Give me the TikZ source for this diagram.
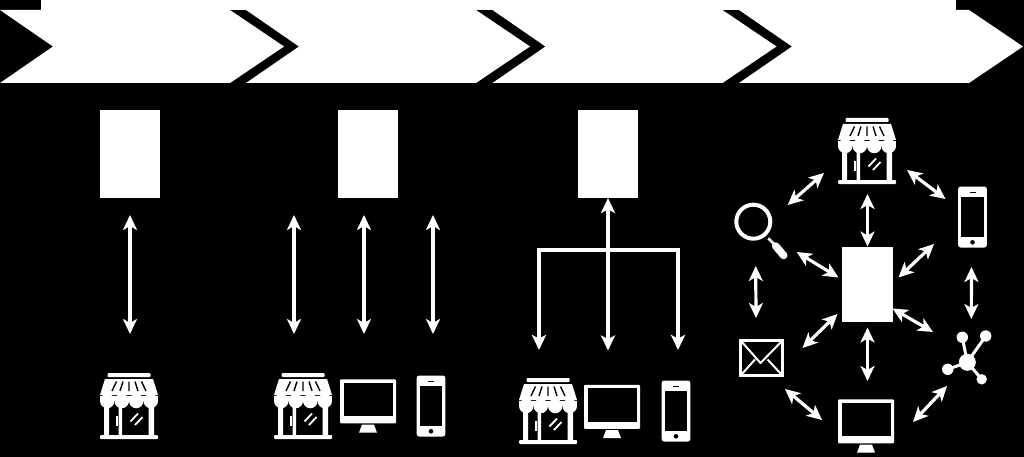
\documentclass[tikz,border=0pt]{standalone}
\usetikzlibrary{positioning,calc,arrows.meta}
\tikzset{
  iconbox/.style={inner sep=0pt,outer sep=0pt},
  stagebox/.style={fill=white,inner sep=0pt,outer sep=0pt},
  biarrow/.style={draw=white,line width=3.2pt,{Stealth[length=15pt,width=14pt,inset=4pt]}-{Stealth[length=15pt,width=14pt,inset=4pt]}},
  busline/.style={draw=white,line width=4pt,-{Stealth[length=15pt,width=14pt,inset=3.5pt]}},
  store/.pic={
    \fill[white,rounded corners=1pt] (-21.5,-33) rectangle (21.5,-29);
    \fill[white] (-24,-27) -- (24,-27) -- (29,-11) -- (-29,-11) -- cycle;
    \draw[black,line width=1.4pt]
    (-17,-15) -- (-12.5,-24.5) (-9,-15) -- (-6,-24.5) (0,-15) -- (0,-24.5)
    (9,-15) -- (6,-24.5) (17,-15) -- (12.5,-24.5);
    \fill[white] (-29,-9.7) rectangle (29,-5);
    \foreach \c in {-21.75,-7.25,7.25,21.75}
      \fill[white] (\c,-5) circle (7.25);
    \fill[white] (-25,-2) rectangle (-20,30) (-10.5,-2) rectangle (-7,30) (19.5,-2) rectangle (25,30);
    \fill[white,rounded corners=1pt] (-29,29) rectangle (29,33);
    \draw[white,line width=2pt] (-12.5,10) -- (-12.5,20);
    \draw[white,line width=1.8pt] (1.5,15.5) -- (9,7.5) (6,19) -- (13.5,11);
  },
  monitor/.pic={
    \fill[white,rounded corners=1pt] (-28,-26.7) rectangle (28,17.3);
    \fill[black] (-24.5,-23.3) rectangle (24.5,10);
    \fill[white] (-6,18.5) -- (6,18.5) -- (9,26.7) -- (-9,26.7) -- cycle;
  },
  phone/.pic={
    \fill[white,rounded corners=2.5pt] (-14.3,-30.5) rectangle (14.3,30.5);
    \fill[black] (-11.3,-20) rectangle (11.3,20);
    \fill[black] (-3,-25) rectangle (3,-24);
    \fill[black] (0,25.3) circle (2.3);
  },
  lens/.pic={
    \draw[white,line width=4pt] (-8.4,-10.3) circle (17);
    \draw[white,line width=2.6pt] (6.6,6.3) -- (13.3,13);
    \draw[white,line width=7.5pt,line cap=round] (14,14) -- (22,23.5);
  },
  envelope/.pic={
    \draw[white,line width=3pt] (-21,-17.8) rectangle (21,17.8);
    \draw[white,line width=2pt,line join=round]
    (-20.5,-17) -- (-1,5) -- (20.5,-17) (-20.5,17) -- (-6.5,1.5) (20.5,17) -- (6,1.5);
  },
  hub/.pic={
    \draw[white,line width=3pt]
    (0.3,4.3) -- (-4.7,-20.7) (0.3,4.3) -- (18.7,-22) (0.3,4.3) -- (-19.3,11.3) (0.3,4.3) -- (14.7,21.3);
    \fill[white] (0.3,4.3) circle (8.5) (-4.7,-20.7) circle (5.7) (18.7,-22) circle (5.7)
    (-19.3,11.3) circle (5.7) (14.7,21.3) circle (5.2);
  },
}
\begin{document}
\begin{tikzpicture}[x=1pt,y=-1pt]
  \useasboundingbox[fill=black] (0,0) rectangle (1024,457);
  % banner
  \fill[white] (41,0) rectangle (956,10.5);
  \foreach \x in {0,246,492.5,739}
    \fill[white] (\x,10) -- ++(230,0) -- ++(54,36.5) -- ++(-54,36.5) -- ++(-230,0) -- ++(53,-36.5) -- cycle;
  % stages
  \node[stagebox,minimum width=60pt,minimum height=88pt] (box1) at (130,154) {};
  \node[stagebox,minimum width=60pt,minimum height=88pt] (box2) at (367.5,154) {};
  \node[stagebox,minimum width=60pt,minimum height=88pt] (box3) at (608,154) {};
  \node[stagebox,minimum width=51pt,minimum height=75pt] (box4) at (867.5,284.5) {};
  % icons
  \foreach \name/\kind/\w/\h/\x/\y in {
    store1/store/58/66/129/406,
    store2/store/58/66/303/406,
    monitor2/monitor/56/54/368/406,
    phone2/phone/29/61/431/406,
    store3/store/58/66/548/411,
    monitor3/monitor/56/54/612/411.5,
    phone3/phone/29/61/676/411,
    store4/store/58/66/867/151,
    phone4/phone/29/61/972.5/217,
    lens4/lens/53/61/761.7/232,
    mail4/envelope/45/39/761.5/358,
    hub4/hub/50/56/967/358,
    monitor4/monitor/56/54/866/426%
  }{
    \node[iconbox,minimum width=\w pt,minimum height=\h pt] (\name) at (\x,\y) {};
    \pic at (\name) {\kind};
  }
  % arrows
  \foreach \from/\fx/\fy/\to/\tx/\ty in {
    box1/0/61/store1/1/-72,
    box2/-73.5/61/store2/-9/-72,
    box2/-3.5/61/monitor2/-4/-72,
    box2/65.5/61/phone2/2/-72,
    store4/-43/22/lens4/26/-27,
    store4/40/19/phone4/-27/-18,
    store4/0.5/43/box4/0/-38,
    lens4/35/20/box4/-29/-7,
    phone4/-38.5/27/box4/31/-7,
    lens4/-6/34/mail4/-5.5/-40,
    phone4/-1/50/hub4/4.3/-39,
    mail4/41/-10/box4/-30/29.5,
    hub4/-34/-26/box4/25/24,
    box4/0/43/monitor4/1.5/-45,
    mail4/23.5/31/monitor4/-44/-6,
    hub4/-20/28/monitor4/47/-4%
  }{
    \draw[biarrow] ($(\from)+(\fx,\fy)$) -- ($(\to)+(\tx,\ty)$);
  }
  % shared line of the third stage
  \coordinate (bus) at ($(box3)+(0,96)$);
  \draw[busline] (bus) -- (box3.south);
  \draw[busline] (bus) -| ($(store3)+(-9,-61)$);
  \draw[busline] (bus) -- ($(monitor3)+(-4,-61)$);
  \draw[busline] (bus) -| ($(phone3)+(2,-61)$);
\end{tikzpicture}
\end{document}
